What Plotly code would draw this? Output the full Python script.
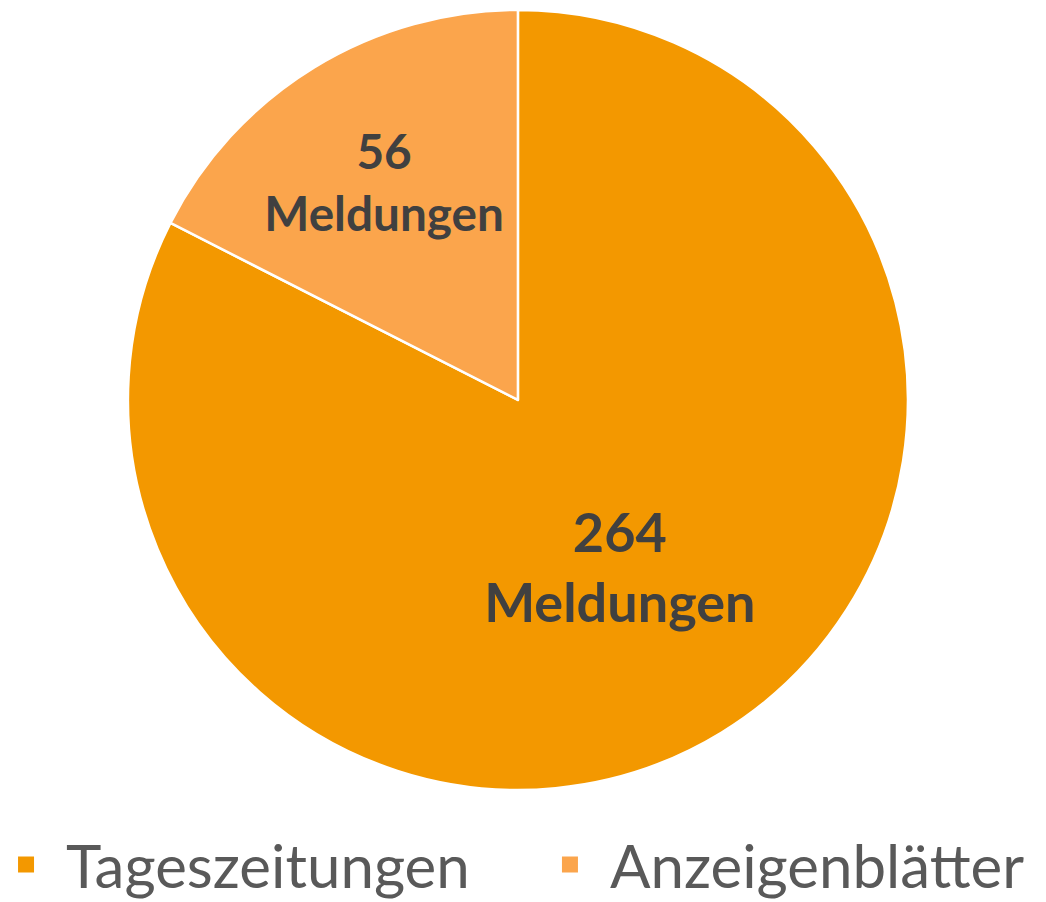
import plotly.graph_objects as go

categories = ["Tageszeitungen", "Anzeigenblätter"]
values = [264, 56]
colors = ["#F39800", "#FBA54C"]

fig = go.Figure()
fig.add_trace(go.Pie(
    labels=categories,
    values=values,
    sort=False,
    direction="clockwise",
    rotation=0,
    marker=dict(colors=colors, line=dict(color="white", width=2.5)),
    texttemplate="<b>%{value}<br>Meldungen</b>",
    textposition="inside",
    insidetextorientation="horizontal",
    textfont=dict(family="Lato", size=54, color="#404040"),
    domain=dict(x=[0, 0.975], y=[0.1331, 0.9978]),
    hoverinfo="label+value",
    showlegend=False,
))

# legend entries (square swatches), one legend box per category
legend_ids = ["legend", "legend2"]
for name, col, lg in zip(categories, colors, legend_ids):
    fig.add_trace(go.Scatter(
        x=[None], y=[None], mode="markers", name=name,
        marker=dict(symbol="square", size=30, color=col),
        showlegend=True, hoverinfo="skip", legend=lg,
    ))

legend_style = dict(
    orientation="h", xanchor="left", y=0.0, yanchor="bottom",
    bgcolor="rgba(0,0,0,0)",
    font=dict(family="Lato", size=60, color="#595959"),
    itemsizing="trace", itemwidth=70,
)

fig.update_layout(
    width=1046, height=902,
    margin=dict(l=0, r=0, t=0, b=0, autoexpand=False),
    paper_bgcolor="white",
    plot_bgcolor="white",
    xaxis=dict(visible=False),
    yaxis=dict(visible=False),
    showlegend=True,
    legend=dict(x=-0.021, **legend_style),
    legend2=dict(x=0.499, **legend_style),
)

fig.write_html("out.html")
